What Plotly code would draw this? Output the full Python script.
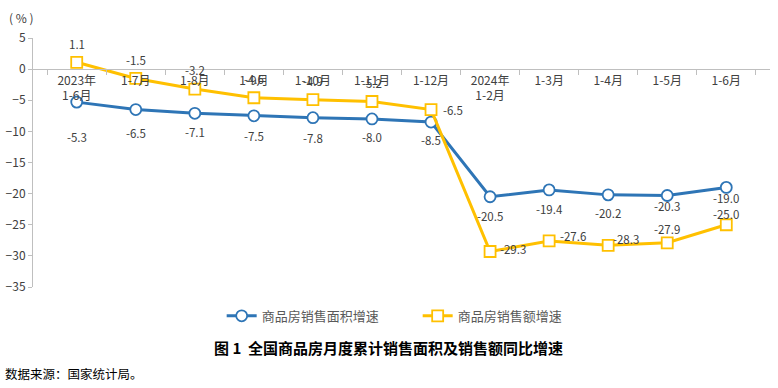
import plotly.graph_objects as go

categories = ["2023年<br>1-6月", "1-7月", "1-8月", "1-9月", "1-10月", "1-11月", "1-12月",
              "2024年<br>1-2月", "1-3月", "1-4月", "1-5月", "1-6月"]
area_growth = [-5.3, -6.5, -7.1, -7.5, -7.8, -8.0, -8.5, -20.5, -19.4, -20.2, -20.3, -19.0]
sales_growth = [1.1, -1.5, -3.2, -4.6, -4.9, -5.2, -6.5, -29.3, -27.6, -28.3, -27.9, -25.0]
area_name = "商品房销售面积增速"
sales_name = "商品房销售额增速"
y_ticks = [5, 0, -5, -10, -15, -20, -25, -30, -35]

# label offsets in pixels (style only)
area_off = [(0, -35), (0, -23), (0, -19), (0, -20), (0, -20), (0, -18), (0, -18),
            (0, -19), (0, -19), (0, -18), (0, -11), (0, -11)]
sales_off = [(0, 18), (0, 18), (0, 19), (0, 19), (0, 19), (0, 19), (22, 0),
             (23, 3), (24, 5), (18, 6), (0, 14), (0, 11)]

BLUE = "#2E75B6"
GOLD = "#FFC000"
FONT = "Noto Sans CJK SC"

fig = go.Figure()
fig.add_trace(go.Scatter(
    x=categories, y=area_growth, name=area_name, mode="lines+markers",
    line=dict(color=BLUE, width=3),
    marker=dict(symbol="circle", size=11, color="white", line=dict(color=BLUE, width=1.8)),
))
fig.add_trace(go.Scatter(
    x=categories, y=sales_growth, name=sales_name, mode="lines+markers",
    line=dict(color=GOLD, width=3),
    marker=dict(symbol="square", size=11, color="white", line=dict(color=GOLD, width=1.8)),
))

annotations = []
for c, v, (dx, dy) in zip(categories, area_growth, area_off):
    annotations.append(dict(x=c, y=v, xref="x", yref="y", text=f"{v:.1f}", showarrow=False,
                            xshift=dx, yshift=dy, font=dict(size=11.5, color="#404040", family=FONT)))
for c, v, (dx, dy) in zip(categories, sales_growth, sales_off):
    annotations.append(dict(x=c, y=v, xref="x", yref="y", text=f"{v:.1f}", showarrow=False,
                            xshift=dx, yshift=dy, font=dict(size=11.5, color="#404040", family=FONT)))

annotations.append(dict(x=-0.035, y=1.084, xref="paper", yref="paper", xanchor="left", yanchor="middle",
                        text="(&nbsp;%&nbsp;)", showarrow=False,
                        font=dict(size=12, color="#404040", family=FONT)))
annotations.append(dict(x=0.483, y=-0.293, xref="paper", yref="paper",
                        text="<b>图 1  全国商品房月度累计销售面积及销售额同比增速</b>", showarrow=False,
                        font=dict(size=15, color="#000000", family=FONT)))
annotations.append(dict(x=-0.0407, y=-0.392, xref="paper", yref="paper", xanchor="left",
                        text="数据来源：国家统计局。", showarrow=False,
                        font=dict(size=12.5, color="#000000", family=FONT)))

fig.update_layout(
    width=778, height=388,
    margin=dict(l=33, r=8, t=38, b=101, autoexpand=False),
    paper_bgcolor="white", plot_bgcolor="white",
    font=dict(family=FONT, color="#404040", size=12),
    showlegend=True,
    legend=dict(orientation="h", x=0.256, xanchor="left", y=-0.116, yanchor="middle",
                font=dict(size=13, color="#595959", family=FONT), itemwidth=30,
                entrywidth=151, entrywidthmode="pixels", tracegroupgap=0),
    annotations=annotations,
    xaxis=dict(type="category", anchor="free", position=0.875, showline=True, automargin=False,
               linecolor="#BFBFBF", linewidth=1, ticks="outside", tickson="boundaries",
               ticklen=5, tickcolor="#BFBFBF", showgrid=False, zeroline=False,
               tickfont=dict(size=12, color="#404040", family=FONT)),
    yaxis=dict(range=[-35, 5], tickvals=y_ticks, showline=True, linecolor="#BFBFBF", automargin=False,
               ticks="outside", ticklen=4, tickcolor="#BFBFBF", showgrid=False,
               zeroline=False, tickfont=dict(size=12, color="#404040", family=FONT)),
)

fig.write_html("out.html", config={"displayModeBar": False},
               post_script="document.body.style.margin='0';")
